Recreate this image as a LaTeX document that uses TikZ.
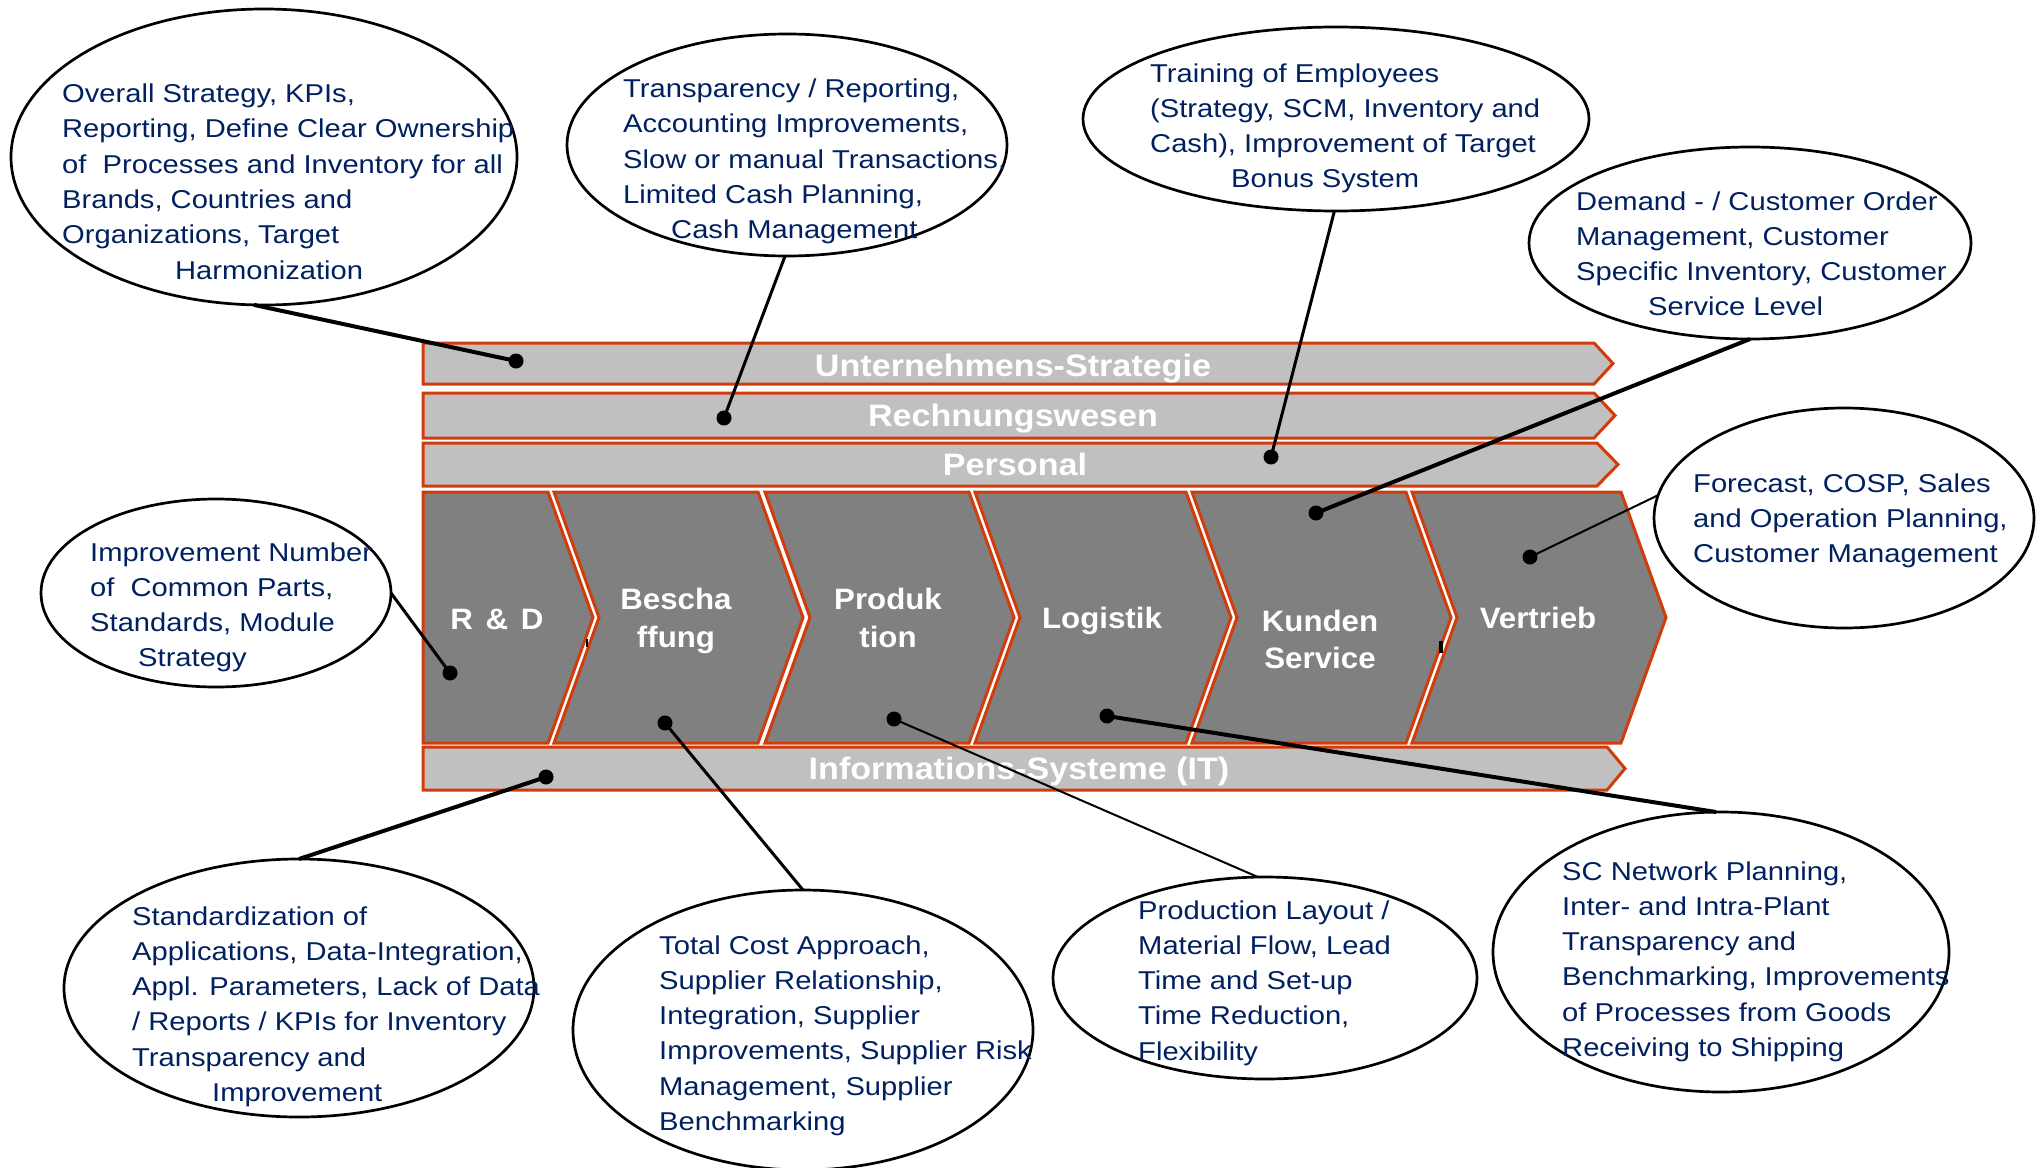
\documentclass[tikz,border=0pt]{standalone}
\usepackage{fontspec}
\setmainfont{Liberation Sans}
\newfontfamily\ellfont{Liberation Sans}[FakeStretch=1.13]
\newfontfamily\bandfont{Liberation Sans Bold}[FakeStretch=1.1]
\newfontfamily\chevfont{Liberation Sans Bold}[FakeStretch=1.06]
\usetikzlibrary{shapes.geometric}
\definecolor{navy}{RGB}{0,32,96}
\definecolor{orng}{RGB}{208,60,12}
\definecolor{lgray}{RGB}{192,192,192}
\definecolor{dgray}{RGB}{128,128,128}
\begin{document}
\begin{tikzpicture}[x=1pt,y=-1pt,
  ell/.style={draw=black, line width=2.7pt, ellipse, inner sep=0pt, outer sep=0pt},
  etext/.style={anchor=base west, inner sep=0pt, text=navy, font=\ellfont\fontsize{25.8}{35.3}\selectfont},
  band/.style={fill=lgray, draw=orng, line width=3pt},
  chev/.style={fill=dgray, draw=orng, line width=3pt},
  blabel/.style={anchor=base, inner sep=0pt, text=white, font=\bandfont\fontsize{31}{37}\selectfont},
  clabel/.style={anchor=base, inner sep=0pt, text=white, font=\chevfont\fontsize{29.5}{38}\selectfont},
  dot/.style={circle, fill=black, minimum size=15pt, inner sep=0pt},
  connA/.style={draw=black, line width=4pt},
  connB/.style={draw=black, line width=3pt},
  connC/.style={draw=black, line width=2pt}
]
\useasboundingbox (0,0) rectangle (2044,1167);

% ellipses
\node[ell, minimum width=506pt, minimum height=296pt] (e1) at (264,157) {};
\node[ell, minimum width=440pt, minimum height=222pt] (e2) at (787,145) {};
\node[ell, minimum width=506pt, minimum height=184pt] (e3) at (1336,119) {};
\node[ell, minimum width=442pt, minimum height=192pt] (e4) at (1750,243) {};
\node[ell, minimum width=380pt, minimum height=220pt] (e5) at (1844,518) {};
\node[ell, minimum width=350pt, minimum height=188pt] (e6) at (216,593) {};
\node[ell, minimum width=470pt, minimum height=258pt] (e7) at (299,988) {};
\node[ell, minimum width=460pt, minimum height=280pt] (e8) at (803,1030) {};
\node[ell, minimum width=424pt, minimum height=202pt] (e9) at (1265,978) {};
\node[ell, minimum width=456pt, minimum height=280pt] (e10) at (1721,952) {};

% ellipse texts
\node[etext] (t1) at (62,102.5) {\begin{tabular}[t]{@{}l@{}}Overall Strategy, KPIs,\\Reporting, Define Clear Ownership\\of~ Processes and Inventory for all\\Brands, Countries and\\Organizations, Target\\\hspace*{113pt}Harmonization\end{tabular}};
\node[etext] (t2) at (623,97.5) {\begin{tabular}[t]{@{}l@{}}Transparency / Reporting,\\Accounting Improvements,\\Slow or manual Transactions,\\Limited Cash Planning,\\\hspace*{48pt}Cash Management\end{tabular}};
\node[etext] (t3) at (1150,82) {\begin{tabular}[t]{@{}l@{}}Training of Employees\\(Strategy, SCM, Inventory and\\Cash), Improvement of Target\\\hspace*{81pt}Bonus System\end{tabular}};
\node[etext] (t4) at (1576,210) {\begin{tabular}[t]{@{}l@{}}Demand - / Customer Order\\Management, Customer\\Specific Inventory, Customer\\\hspace*{72pt}Service Level\end{tabular}};
\node[etext] (t5) at (1693,492) {\begin{tabular}[t]{@{}l@{}}Forecast, COSP, Sales\\and Operation Planning,\\Customer Management\end{tabular}};
\node[etext] (t6) at (90,561) {\begin{tabular}[t]{@{}l@{}}Improvement Number\\of~ Common Parts,\\Standards, Module\\\hspace*{48pt}Strategy\end{tabular}};
\node[etext] (t7) at (132,925) {\begin{tabular}[t]{@{}l@{}}Standardization of\\Applications, Data-Integration,\\Appl. Parameters, Lack of Data\\/ Reports / KPIs for Inventory\\Transparency and\\\hspace*{80pt}Improvement\end{tabular}};
\node[etext] (t8) at (659,954) {\begin{tabular}[t]{@{}l@{}}Total Cost Approach,\\Supplier Relationship,\\Integration, Supplier\\Improvements, Supplier Risk\\Management, Supplier\\Benchmarking\end{tabular}};
\node[etext] (t9) at (1138,919) {\begin{tabular}[t]{@{}l@{}}Production Layout /\\Material Flow, Lead\\Time and Set-up\\Time Reduction,\\Flexibility\end{tabular}};
\node[etext] (t10) at (1562,880) {\begin{tabular}[t]{@{}l@{}}SC Network Planning,\\Inter- and Intra-Plant\\Transparency and\\Benchmarking, Improvements\\of Processes from Goods\\Receiving to Shipping\end{tabular}};

% bands
\draw[band] (423,343) -- (1594,343) -- (1613,363.5) -- (1594,384) -- (423,384) -- cycle;
\draw[band] (423,393) -- (1594,393) -- (1615,415.5) -- (1594,438) -- (423,438) -- cycle;
\draw[band] (423,443) -- (1597,443) -- (1618,464.5) -- (1597,486) -- (423,486) -- cycle;
\draw[band] (423,747) -- (1607,747) -- (1625,768.5) -- (1607,790) -- (423,790) -- cycle;

% chevrons
\draw[chev] (423,492) -- (548,492) -- (593,617.5) -- (548,743) -- (423,743) -- cycle;
\foreach \l/\r in {554/758, 765/969, 975/1186, 1192/1406, 1412/1621} {
  \draw[chev] (\l,492) -- (\r,492) -- ({\r+45},617.5) -- (\r,743) -- (\l,743) -- ({\l+45},617.5) -- cycle;
}

% band labels
\node[blabel] (b1) at (1013,376) {Unternehmens-Strategie};
\node[blabel] (b2) at (1013,426) {Rechnungswesen};
\node[blabel] (b3) at (1015,475) {Personal};
\node[blabel] (b4) at (1019,779) {Informations-Systeme (IT)};

% chevron labels
\node[clabel] (c1) at (497,629) {R\kern4pt{} \&\kern4pt{} D};
\node[clabel] (c2) at (676,609) {\begin{tabular}[t]{@{}c@{}}Bescha\\ffung\end{tabular}};
\node[clabel] (c3) at (888,609) {\begin{tabular}[t]{@{}c@{}}Produk\\tion\end{tabular}};
\node[clabel] (c4) at (1102,628) {Logistik};
\node[clabel, font=\chevfont\fontsize{29.5}{37}\selectfont] (c5) at (1320,631) {\begin{tabular}[t]{@{}c@{}}Kunden\\Service\end{tabular}};
\node[clabel] (c6) at (1538,628) {Vertrieb};

% small marks
\draw[line width=3.5pt] (1441,641) -- (1441,653);
\draw[line width=2pt] (587,639) -- (587,647);

% dots
\node[dot] (d1) at (516,361) {};
\node[dot] (d2) at (724,418) {};
\node[dot] (d3) at (1271,457) {};
\node[dot] (d4) at (1316,513) {};
\node[dot] (d5) at (1530,557) {};
\node[dot] (d6) at (450,673) {};
\node[dot] (d7) at (546,777) {};
\node[dot] (d8) at (665,723) {};
\node[dot] (d9) at (894,719) {};
\node[dot] (d10) at (1107,716) {};

% connectors
\draw[connA] (e1.266) -- (d1.center);
\draw[connB] (e2.269) -- (d2.center);
\draw[connB] (e3.269) -- (d3.center);
\draw[connA] (e4.south) -- (d4.center);
\draw[connC] (e5.173.6) -- (d5.center);
\draw[connB] (e6.east) -- (d6.center);
\draw[connA] (e7.north) -- (d7.center);
\draw[connB] (e8.north) -- (d8.center);
\draw[connC] (e9.94) -- (d9.center);
\draw[connA] (e10.92) -- (d10.center);
\end{tikzpicture}
\end{document}
